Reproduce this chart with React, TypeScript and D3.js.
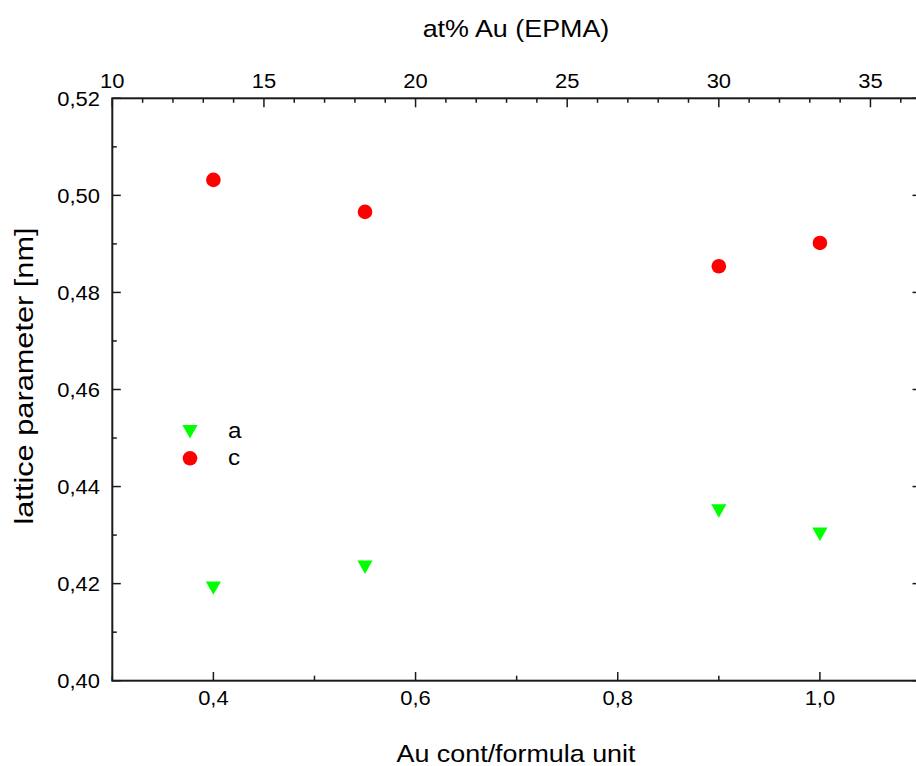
import React from "react";
import * as d3 from "d3";

const auContent = [0.4, 0.55, 0.9, 1.0];
const latticeA = [0.4191, 0.4234, 0.435, 0.4302];
const latticeC = [0.5032, 0.4966, 0.4854, 0.4902];
const bottomTicks = [0.4, 0.6, 0.8, 1.0];
const bottomMinor = [0.3, 0.5, 0.7, 0.9, 1.1];
const topTicks = [10, 15, 20, 25, 30, 35];
const yTicks = [0.4, 0.42, 0.44, 0.46, 0.48, 0.5, 0.52];
const legendLabels = ["a", "c"];

const W = 916, H = 766;
const L = 112.3, R = 921, T = 98.3, B = 680.7;
const FONT = "'Liberation Sans', Arial, sans-serif";
const SX = 1.12;

const fmt = (v: number, d: number) => v.toFixed(d).replace(".", ",");

function Txt({ x, y, children, size, anchor = "middle", sx = SX, sy = 1, rotate = 0 }: any) {
  return (
    <g transform={`translate(${x},${y}) rotate(${rotate}) scale(${sx},${sy})`}>
      <text x={0} y={0} fontSize={size} textAnchor={anchor} fontFamily={FONT} fill="#000">
        {children}
      </text>
    </g>
  );
}

const triPath = d3.line()([[-7.6, -6.6], [7.6, -6.6], [0, 6.8]]) + "Z";

export default function App() {
  const x = d3.scaleLinear().domain([0.3, 1.1]).range([L, R]);
  const xTop = d3.scaleLinear().domain([10, 10 + 0.8 * (100 / 3)]).range([L, R]);
  const y = d3.scaleLinear().domain([0.4, 0.52]).range([B, T]);
  const topMinor = d3.range(10, 37, 1);
  const yMinor = d3.range(0, 13).map((i) => 0.4 + i * 0.01);
  const stroke = "#1a1a1a";

  return (
    <svg width={W} height={H} style={{ position: "absolute", left: 0, top: 0, background: "#fff" }}>
      <rect x={L} y={T} width={R - L} height={B - T} fill="none" stroke={stroke} strokeWidth={2} />
      {yMinor.map((v, i) => (
        <g key={"ym" + i}>
          <line x1={L} x2={L + (i % 2 === 0 ? 8.5 : 4.5)} y1={y(v)} y2={y(v)} stroke={stroke} strokeWidth={1.5} />
          <line x1={R} x2={R - (i % 2 === 0 ? 8.5 : 4.5)} y1={y(v)} y2={y(v)} stroke={stroke} strokeWidth={1.5} />
        </g>
      ))}
      {yTicks.map((v) => (
        <Txt key={"yl" + v} x={100} y={y(v) + 7.5} size={19.6} anchor="end">
          {fmt(v, 2)}
        </Txt>
      ))}
      {bottomMinor.map((v) => (
        <line key={"bm" + v} x1={x(v)} x2={x(v)} y1={B} y2={B - 5} stroke={stroke} strokeWidth={1.5} />
      ))}
      {bottomTicks.map((v) => (
        <g key={"bt" + v}>
          <line x1={x(v)} x2={x(v)} y1={B} y2={B - 8.7} stroke={stroke} strokeWidth={1.5} />
          <Txt x={x(v)} y={704.5} size={19.6}>
            {fmt(v, 1)}
          </Txt>
        </g>
      ))}
      {topMinor.map((v) => (
        <line key={"tm" + v} x1={xTop(v)} x2={xTop(v)} y1={T} y2={T + (v % 5 === 0 ? 9 : 4.5)} stroke={stroke} strokeWidth={1.5} />
      ))}
      {topTicks.map((v) => (
        <Txt key={"tt" + v} x={xTop(v)} y={87.9} size={19.6}>
          {String(v)}
        </Txt>
      ))}
      <Txt x={516} y={37} size={24}>at% Au (EPMA)</Txt>
      <Txt x={516} y={761.5} size={24}>Au cont/formula unit</Txt>
      <Txt x={32.6} y={376} size={26.5} rotate={-90} sx={1.16}>lattice parameter [nm]</Txt>
      {auContent.map((v, i) => (
        <path key={"a" + i} d={triPath} transform={`translate(${x(v)},${y(latticeA[i])})`} fill="#00ff00" />
      ))}
      {auContent.map((v, i) => (
        <circle key={"c" + i} cx={x(v)} cy={y(latticeC[i])} r={7.3} fill="#ff0000" />
      ))}
      <path d={triPath} transform={`translate(190,431.7)`} fill="#00ff00" />
      <circle cx={190} cy={458.3} r={7.3} fill="#ff0000" />
      <Txt x={228} y={438.3} size={22} anchor="start" sx={1.1}>{legendLabels[0]}</Txt>
      <Txt x={228} y={465} size={22} anchor="start" sx={1.1}>{legendLabels[1]}</Txt>
    </svg>
  );
}
